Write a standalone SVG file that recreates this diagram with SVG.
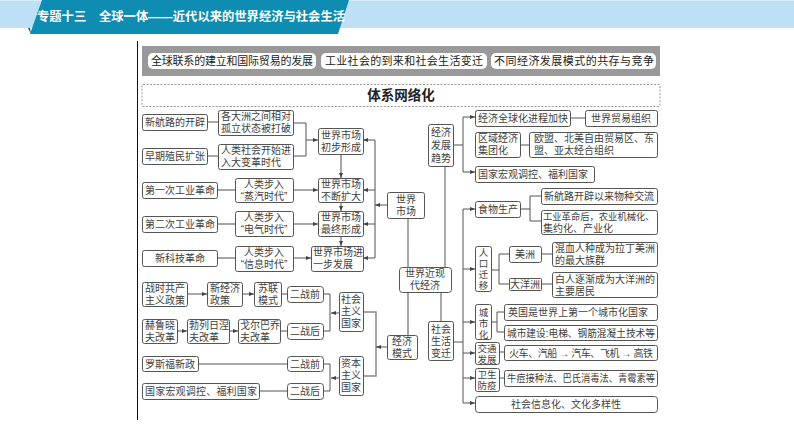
<svg xmlns="http://www.w3.org/2000/svg" width="794" height="446" viewBox="0 0 794 446">
<style>
text{font-family:"Liberation Sans","Noto Sans CJK SC",sans-serif;font-size:10px;fill:#404040}
.m{text-anchor:middle}
.s{font-size:9.500px}
.n rect{fill:#fff;stroke:#555;stroke-width:1}
#connectors path{fill:none;stroke:#555;stroke-width:1}
#connectors .g{stroke:#888;stroke-width:1.5}
#connectors .a{marker-end:url(#ah)}
.pill{fill:#fff}
.pt{font-size:11px;fill:#222}
</style>
<defs><marker id="ah" markerUnits="userSpaceOnUse" markerWidth="6" markerHeight="6" refX="5" refY="2.5" orient="auto"><path d="M0 0.5L5 2.5L0 4.5Z" fill="#444"/></marker></defs>
<rect width="794" height="28" fill="#bde0f6"/>
<rect width="794" height="1" fill="#d8eefb"/>
<path d="M30 28L28 28L31 34Z" fill="#0a4f66"/>
<path d="M42 0H349L338 34H30Z" fill="#0e8cb1"/>
<text x="37" y="21" style="fill:#fff;font-size:12.3px;font-weight:700">专题十三</text>
<text x="99" y="21" textLength="246" style="fill:#fff;font-size:12.3px;font-weight:700">全球一体——近代以来的世界经济与社会生活</text>
<path d="M137.500 41V420" stroke="#111" stroke-width="1" fill="none"/>
<rect x="142" y="46" width="518" height="30" fill="#999"/>
<g id="tab1"><rect class="pill" x="148" y="53" width="168" height="16" rx="5"/><text class="pt" x="151" y="65" textLength="162">全球联系的建立和国际贸易的发展</text></g>
<g id="tab2"><rect class="pill" x="321" y="53" width="166" height="16" rx="5"/><text class="pt" x="325" y="65" textLength="158">工业社会的到来和社会生活变迁</text></g>
<g id="tab3"><rect class="pill" x="491" y="53" width="165" height="16" rx="5"/><text class="pt" x="494" y="65" textLength="160">不同经济发展模式的共存与竞争</text></g>
<g id="title"><rect x="142" y="84.500" width="518" height="22" rx="1" fill="#fff" stroke="#999" stroke-dasharray="2 1.500"/><text class="m" x="401" y="100" style="font-size:13.500px;font-weight:700;fill:#222">体系网络化</text></g>
<g id="connectors">
<path d="M207 122H218M207 156H218M293 123H306V156H293"/>
<path class="a" d="M306 140H318"/>
<path class="g a" d="M341 154V178"/><path class="g a" d="M341 202V211"/><path class="g a" d="M341 236V246"/>
<path class="g" d="M217 190H235M217 224H235M217 258H235"/>
<path class="a" d="M293 190H318"/><path class="a" d="M293 224H318"/><path class="a" d="M293 258H311"/>
<path class="g" d="M375 140V258"/>
<path class="a" d="M375 140H363"/><path class="a" d="M375 190H363"/><path class="a" d="M375 224H363"/><path class="a" d="M375 258H363"/><path class="a" d="M387 205H375"/>
<path d="M408 218V267"/><path class="g" d="M408 292V335"/><path d="M441 292V321"/><path d="M445 166V267"/>
<path class="a" d="M463 117H475"/><path class="a" d="M463 172H475"/><path d="M453 145H463M463 117V172"/>
<path d="M520 145H529M570 118H585"/>
<path d="M453 342H463M463 209V403"/>
<path class="a" d="M463 209H475"/><path class="a" d="M463 269H475"/><path class="a" d="M463 322H475"/><path class="a" d="M463 353H475"/><path class="a" d="M463 378H475"/><path class="a" d="M463 403H475"/>
<path class="g" d="M520 209H530"/><path d="M541 196H530V221H541"/>
<path d="M491 270H499M509 254H499V284H509"/><path d="M541 254H552M541 284H552"/>
<path d="M491 322H497M504 312H497V332H504"/>
<path d="M499 352H504M499 378H504"/>
<path class="a" d="M187 294H207"/><path class="a" d="M242 294H254"/><path d="M281 294H287"/>
<path class="a" d="M177 331H187"/><path class="a" d="M229 331H238"/><path d="M280 331H287"/>
<path d="M323 294H330V331H323"/><path class="a" d="M339 313H331"/>
<path d="M198 364H287M259 391H287"/>
<path d="M323 364H330V391H323"/><path class="a" d="M339 378H331"/>
<path class="g" d="M363 312H376V376H363"/><path class="a" d="M387 347H376"/>
</g>
<g class="n" id="n1"><rect x="142.500" y="114.500" width="65" height="16" rx="2"/><text class="m" x="175" y="126">新航路的开辟</text></g>
<g class="n" id="n2"><rect x="218.500" y="110.500" width="75" height="25" rx="2"/><text class="m" y="120"><tspan x="256">各大洲之间相对</tspan><tspan x="256" dy="12">孤立状态被打破</tspan></text></g>
<g class="n" id="n3"><rect x="142.500" y="148.500" width="65" height="16" rx="2"/><text class="m" x="175" y="160">早期殖民扩张</text></g>
<g class="n" id="n4"><rect x="218.500" y="144.500" width="75" height="25" rx="2"/><text y="154"><tspan x="221">人类社会开始进</tspan><tspan x="221" dy="12">入大变革时代</tspan></text></g>
<g class="n" id="n5"><rect x="318.500" y="128.500" width="45" height="26" rx="2"/><text class="m" y="139"><tspan x="341">世界市场</tspan><tspan x="341" dy="12">初步形成</tspan></text></g>
<g class="n" id="n6"><rect x="142.500" y="182.500" width="75" height="16" rx="2"/><text class="m" x="180" y="194">第一次工业革命</text></g>
<g class="n" id="n7"><rect x="235.500" y="178.500" width="58" height="24" rx="2"/><text class="m" y="188"><tspan x="264">人类步入</tspan><tspan x="264" dy="12">“蒸汽时代”</tspan></text></g>
<g class="n" id="n8"><rect x="318.500" y="178.500" width="45" height="24" rx="2"/><text class="m" y="188"><tspan x="341">世界市场</tspan><tspan x="341" dy="12">不断扩大</tspan></text></g>
<g class="n" id="n9"><rect x="142.500" y="216.500" width="75" height="16" rx="2"/><text class="m" x="180" y="228">第二次工业革命</text></g>
<g class="n" id="n10"><rect x="235.500" y="211.500" width="58" height="25" rx="2"/><text class="m" y="221"><tspan x="264">人类步入</tspan><tspan x="264" dy="12">“电气时代”</tspan></text></g>
<g class="n" id="n11"><rect x="318.500" y="211.500" width="45" height="25" rx="2"/><text class="m" y="221"><tspan x="341">世界市场</tspan><tspan x="341" dy="12">最终形成</tspan></text></g>
<g class="n" id="n12"><rect x="142.500" y="250.500" width="75" height="16" rx="2"/><text class="m" x="180" y="262">新科技革命</text></g>
<g class="n" id="n13"><rect x="235.500" y="246.500" width="58" height="25" rx="2"/><text class="m" y="256"><tspan x="264">人类步入</tspan><tspan x="264" dy="12">“信息时代”</tspan></text></g>
<g class="n" id="n14"><rect x="311.500" y="246.500" width="52" height="25" rx="2"/><text y="256"><tspan x="313">世界市场进</tspan><tspan x="313" dy="12">一步发展</tspan></text></g>
<g class="n" id="n15"><rect x="387.500" y="192.500" width="37" height="26" rx="2"/><text class="m" y="203"><tspan x="406">世界</tspan><tspan x="406" dy="12">市场</tspan></text></g>
<g class="n" id="n16"><rect x="399.500" y="267.500" width="52" height="25" rx="3"/><text class="m" y="277"><tspan x="425">世界近现</tspan><tspan x="425" dy="12">代经济</tspan></text></g>
<g class="n" id="n17"><rect x="428.500" y="124.500" width="25" height="42" rx="2"/><text class="m" y="136"><tspan x="441">经济</tspan><tspan x="441" dy="13">发展</tspan><tspan x="441" dy="13">趋势</tspan></text></g>
<g class="n" id="n18"><rect x="475.500" y="110.500" width="95" height="16" rx="2"/><text class="m" x="523" y="122">经济全球化进程加快</text></g>
<g class="n" id="n19"><rect x="585.500" y="110.500" width="72" height="16" rx="2"/><text class="m" x="621" y="122">世界贸易组织</text></g>
<g class="n" id="n20"><rect x="475.500" y="132.500" width="45" height="25" rx="2"/><text y="142"><tspan x="478">区域经济</tspan><tspan x="478" dy="12">集团化</tspan></text></g>
<g class="n" id="n21"><rect x="529.500" y="132.500" width="128" height="25" rx="2"/><text y="142"><tspan x="534">欧盟、北美自由贸易区、东</tspan><tspan x="534" dy="12">盟、亚太经合组织</tspan></text></g>
<g class="n" id="n22"><rect x="475.500" y="166.500" width="119" height="16" rx="2"/><text x="478" y="178" textLength="110">国家宏观调控、福利国家</text></g>
<g class="n" id="n23"><rect x="475.500" y="201.500" width="45" height="16" rx="2"/><text class="m" x="498" y="213">食物生产</text></g>
<g class="n" id="n24"><rect x="541.500" y="188.500" width="116" height="16" rx="2"/><text class="m" x="599" y="200" textLength="110">新航路开辟以来物种交流</text></g>
<g class="n" id="n25"><rect x="541.500" y="210.500" width="116" height="24" rx="2"/><text y="220"><tspan x="543" style="font-size:9.300px">工业革命后，农业机械化、</tspan><tspan x="543" dy="12">集约化、产业化</tspan></text></g>
<g class="n" id="n26"><rect x="475.500" y="246.500" width="16" height="45" rx="2"/><text class="m s" y="256"><tspan x="483.500">人</tspan><tspan x="483.500" dy="11">口</tspan><tspan x="483.500" dy="11">迁</tspan><tspan x="483.500" dy="11">移</tspan></text></g>
<g class="n" id="n27"><rect x="509.500" y="246.500" width="32" height="16" rx="2"/><text class="m" x="525" y="258">美洲</text></g>
<g class="n" id="n28"><rect x="552.500" y="242.500" width="105" height="24" rx="2"/><text y="252"><tspan x="555">混血人种成为拉丁美洲</tspan><tspan x="555" dy="12">的最大族群</tspan></text></g>
<g class="n" id="n29"><rect x="509.500" y="278.500" width="32" height="12" rx="1"/><text class="m" x="525" y="288">大洋洲</text></g>
<g class="n" id="n30"><rect x="552.500" y="272.500" width="105" height="25" rx="2"/><text y="283"><tspan x="555">白人逐渐成为大洋洲的</tspan><tspan x="555" dy="12">主要居民</tspan></text></g>
<g class="n" id="n31"><rect x="475.500" y="304.500" width="16" height="35" rx="2"/><text class="m s" y="315.500"><tspan x="483.500">城</tspan><tspan x="483.500" dy="11">市</tspan><tspan x="483.500" dy="11">化</tspan></text></g>
<g class="n" id="n32"><rect x="504.500" y="304.500" width="153" height="16" rx="2"/><text x="508" y="316" textLength="140">英国是世界上第一个城市化国家</text></g>
<g class="n" id="n33"><rect x="504.500" y="325.500" width="153" height="15" rx="2"/><text x="507" y="337" textLength="148" lengthAdjust="spacingAndGlyphs">城市建设:电梯、钢筋混凝土技术等</text></g>
<g class="n" id="n34"><rect x="475.500" y="342.500" width="24" height="22" rx="2"/><text class="m s" y="352"><tspan x="487">交通</tspan><tspan x="487" dy="11">发展</tspan></text></g>
<g class="n" id="n35"><rect x="504.500" y="345.500" width="153" height="15" rx="2"/><text x="509" y="357" textLength="144">火车、汽船 → 汽车、飞机 → 高铁</text></g>
<g class="n" id="n36"><rect x="475.500" y="368.500" width="24" height="23" rx="2"/><text class="m s" y="378"><tspan x="487">卫生</tspan><tspan x="487" dy="11">防疫</tspan></text></g>
<g class="n" id="n37"><rect x="504.500" y="370.500" width="153" height="16" rx="2"/><text x="507" y="382" textLength="148" lengthAdjust="spacingAndGlyphs">牛痘接种法、巴氏消毒法、青霉素等</text></g>
<g class="n" id="n38"><rect x="475.500" y="396.500" width="182" height="16" rx="3"/><text class="m" x="566" y="408" textLength="110">社会信息化、文化多样性</text></g>
<g class="n" id="n39"><rect x="428.500" y="321.500" width="25" height="39" rx="2"/><text class="m" y="333"><tspan x="441">社会</tspan><tspan x="441" dy="12">生活</tspan><tspan x="441" dy="12">变迁</tspan></text></g>
<g class="n" id="n40"><rect x="387.500" y="335.500" width="30" height="24" rx="2"/><text class="m" y="345"><tspan x="402">经济</tspan><tspan x="402" dy="12">模式</tspan></text></g>
<g class="n" id="n41"><rect x="142.500" y="282.500" width="45" height="24" rx="2"/><text class="m" y="292"><tspan x="165">战时共产</tspan><tspan x="165" dy="12">主义政策</tspan></text></g>
<g class="n" id="n42"><rect x="207.500" y="282.500" width="35" height="24" rx="2"/><text y="292"><tspan x="210">新经济</tspan><tspan x="210" dy="12">政策</tspan></text></g>
<g class="n" id="n43"><rect x="254.500" y="282.500" width="27" height="24" rx="2"/><text class="m" y="292"><tspan x="268">苏联</tspan><tspan x="268" dy="12">模式</tspan></text></g>
<g class="n" id="n44"><rect x="287.500" y="286.500" width="36" height="16" rx="3"/><text class="m" x="305" y="298">二战前</text></g>
<g class="n" id="n45"><rect x="339.500" y="292.500" width="24" height="39" rx="2"/><text class="m" y="303"><tspan x="351">社会</tspan><tspan x="351" dy="12">主义</tspan><tspan x="351" dy="12">国家</tspan></text></g>
<g class="n" id="n46"><rect x="142.500" y="319.500" width="35" height="24" rx="2"/><text class="m" y="329"><tspan x="160">赫鲁晓</tspan><tspan x="160" dy="12">夫改革</tspan></text></g>
<g class="n" id="n47"><rect x="187.500" y="319.500" width="42" height="24" rx="2"/><text y="329"><tspan x="189">勃列日涅</tspan><tspan x="189" dy="12">夫改革</tspan></text></g>
<g class="n" id="n48"><rect x="238.500" y="319.500" width="42" height="24" rx="2"/><text y="329"><tspan x="240">戈尔巴乔</tspan><tspan x="240" dy="12">夫改革</tspan></text></g>
<g class="n" id="n49"><rect x="287.500" y="323.500" width="36" height="16" rx="3"/><text class="m" x="305" y="335">二战后</text></g>
<g class="n" id="n50"><rect x="142.500" y="356.500" width="56" height="15" rx="2"/><text class="m" x="170" y="368">罗斯福新政</text></g>
<g class="n" id="n51"><rect x="287.500" y="356.500" width="36" height="15" rx="3"/><text class="m" x="305" y="368">二战前</text></g>
<g class="n" id="n52"><rect x="339.500" y="356.500" width="24" height="39" rx="2"/><text class="m" y="367"><tspan x="351">资本</tspan><tspan x="351" dy="12">主义</tspan><tspan x="351" dy="12">国家</tspan></text></g>
<g class="n" id="n53"><rect x="142.500" y="383.500" width="117" height="16" rx="2"/><text x="145" y="395" textLength="112">国家宏观调控、福利国家</text></g>
<g class="n" id="n54"><rect x="287.500" y="383.500" width="36" height="16" rx="3"/><text class="m" x="305" y="395">二战后</text></g>
</svg>
